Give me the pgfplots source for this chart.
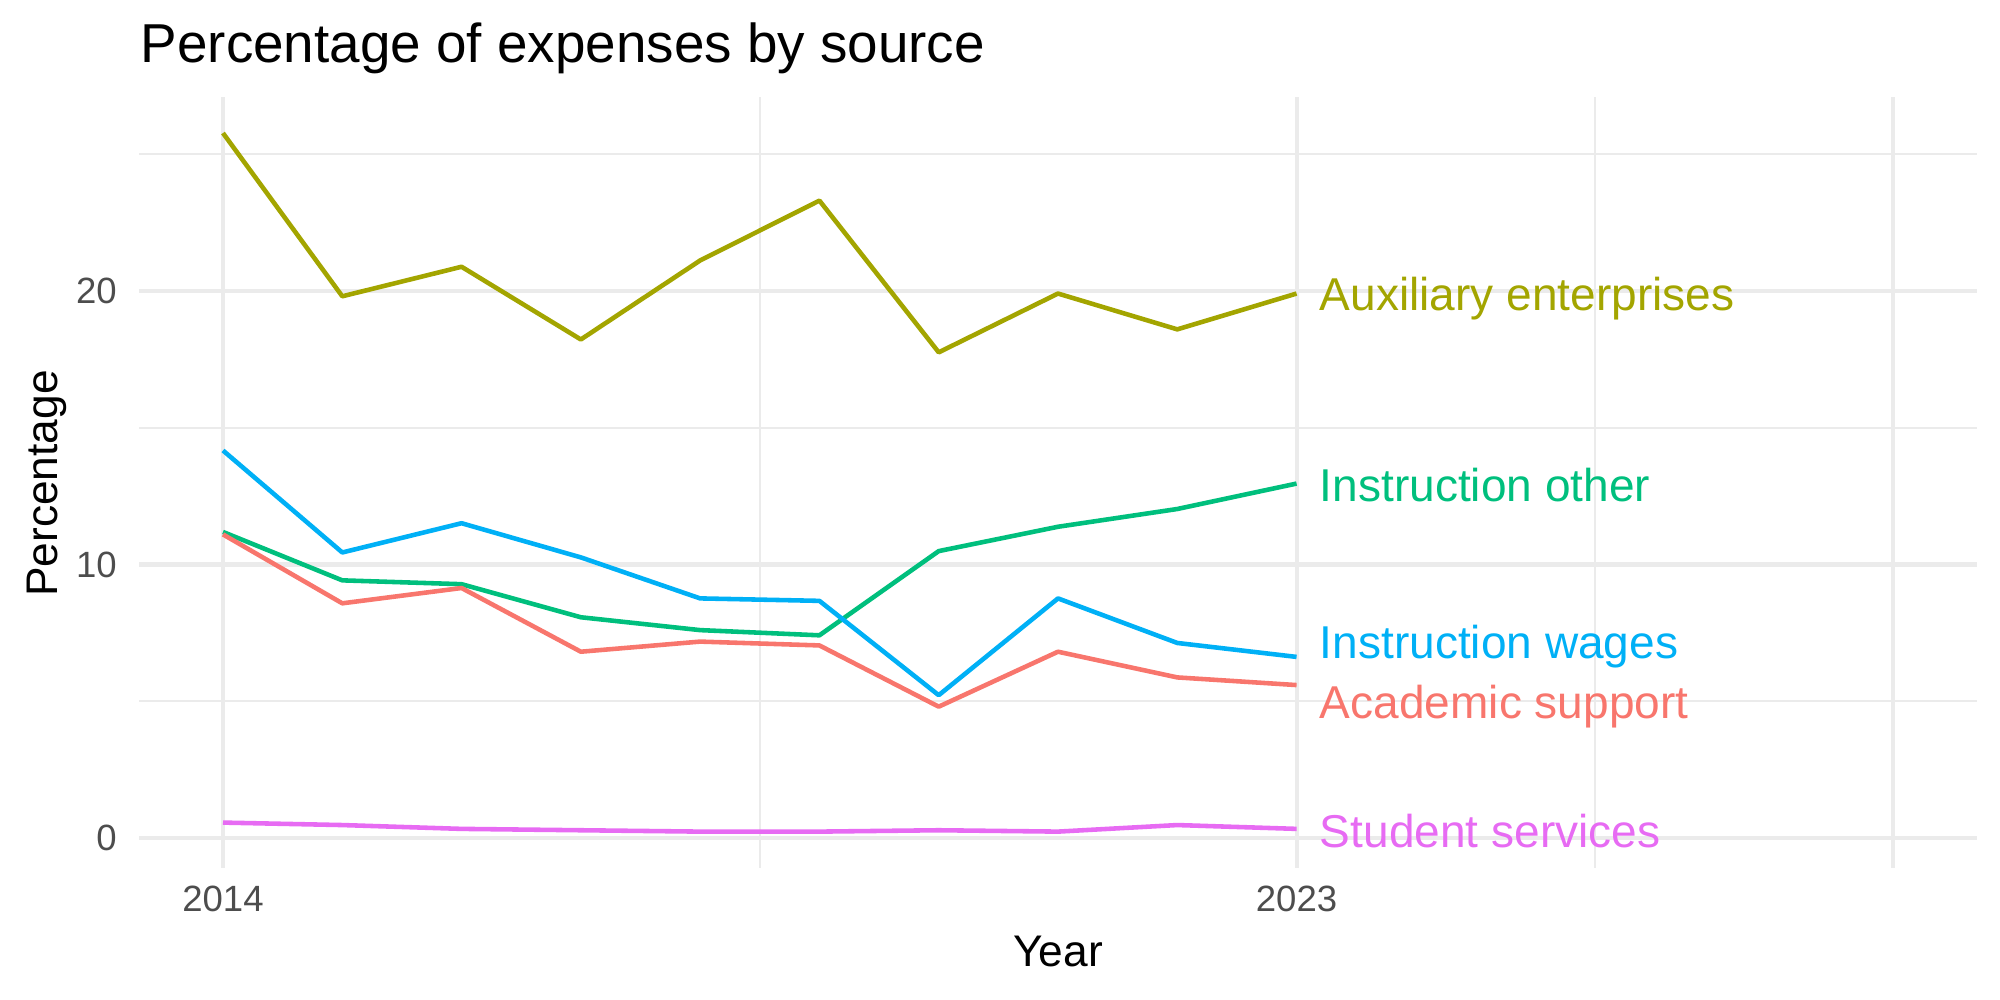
\documentclass[border=0pt]{standalone}
\usepackage{fontspec}
\setmainfont{Liberation Sans}
\usepackage{pgfplots}
\pgfplotsset{compat=1.18}
\definecolor{cAcad}{HTML}{F8766D}
\definecolor{cAux}{HTML}{A3A500}
\definecolor{cOther}{HTML}{00BF7D}
\definecolor{cWages}{HTML}{00B0F6}
\definecolor{cStud}{HTML}{E76BF3}
\definecolor{gridc}{HTML}{EBEBEB}
\definecolor{tickc}{HTML}{4D4D4D}
\begin{document}
\begin{tikzpicture}
\path[use as bounding box] (0,0) rectangle (20cm,10cm);
\begin{axis}[
  at={(1.395cm,1.32cm)}, anchor=south west,
  scale only axis, width=18.37cm, height=7.71cm,
  xmin=2013.3, xmax=2028.7, ymin=-1.1, ymax=27.1,
  axis line style={draw=none}, clip=false,
  xtick={2014,2023,2028}, xticklabels={2014,2023,},
  minor xtick={2018.5,2025.5},
  ytick={0,10,20}, yticklabels={0,10,20},
  minor ytick={5,15,25},
  major tick length=0pt, minor tick length=0pt,
  tick style={draw=none},
  grid=both,
  major grid style={draw=gridc, line width=1.15pt},
  minor grid style={draw=gridc, line width=0.6pt},
  /pgf/number format/assume math mode=true,
  xticklabel style={font=\fontsize{10.4}{12}\selectfont, text=tickc, anchor=north, inner sep=0pt, yshift=-0.17cm},
  yticklabel style={font=\fontsize{10.4}{12}\selectfont, text=tickc, anchor=east, inner sep=0pt, xshift=-0.22cm},
  every axis plot/.append style={line width=1.3pt, no markers, line join=round},
]
\addplot[cAux] coordinates {(2014,25.78) (2015,19.81) (2016,20.89) (2017,18.23) (2018,21.12) (2019,23.31) (2020,17.76) (2021,19.91) (2022,18.60) (2023,19.91)};
\addplot[cOther] coordinates {(2014,11.19) (2015,9.42) (2016,9.28) (2017,8.07) (2018,7.60) (2019,7.41) (2020,10.49) (2021,11.38) (2022,12.03) (2023,12.96)};
\addplot[cWages] coordinates {(2014,14.17) (2015,10.44) (2016,11.51) (2017,10.26) (2018,8.76) (2019,8.67) (2020,5.22) (2021,8.76) (2022,7.13) (2023,6.62)};
\addplot[cAcad] coordinates {(2014,11.10) (2015,8.58) (2016,9.14) (2017,6.81) (2018,7.18) (2019,7.04) (2020,4.80) (2021,6.81) (2022,5.87) (2023,5.59)};
\addplot[cStud] coordinates {(2014,0.56) (2015,0.47) (2016,0.33) (2017,0.28) (2018,0.23) (2019,0.23) (2020,0.28) (2021,0.23) (2022,0.47) (2023,0.33)};
\begin{scope}[every node/.style={anchor=base west, inner sep=0pt, font=\fontsize{13.1}{15}\selectfont}]
\node[text=cAux] at (axis cs:2023.19,19.28) {Auxiliary enterprises};
\node[text=cOther] at (axis cs:2023.19,12.32) {Instruction other};
\node[text=cWages] at (axis cs:2023.19,6.58) {Instruction wages};
\node[text=cAcad] at (axis cs:2023.19,4.36) {Academic support};
\node[text=cStud] at (axis cs:2023.19,-0.34) {Student services};
\end{scope}
\end{axis}
\node[anchor=base west, inner sep=0pt, font=\fontsize{15.6}{18}\selectfont] at (1.40cm,9.37cm) {Percentage of expenses by source};
\node[anchor=base, inner sep=0pt, rotate=90, font=\fontsize{12.6}{15}\selectfont] at (0.57cm,5.165cm) {Percentage};
\node[anchor=base, inner sep=0pt, font=\fontsize{12.6}{15}\selectfont] at (10.58cm,0.33cm) {Year};
\end{tikzpicture}
\end{document}
